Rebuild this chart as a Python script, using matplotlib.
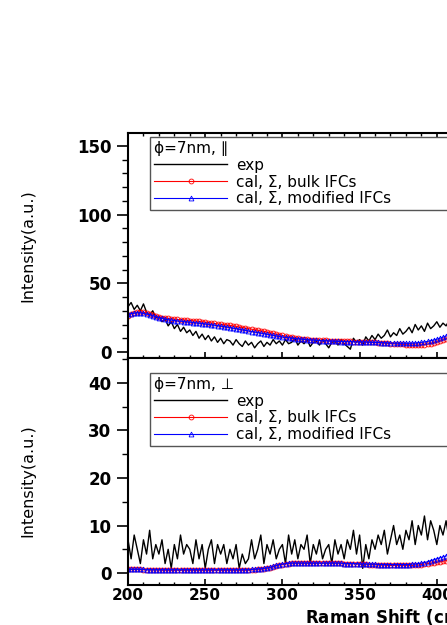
import matplotlib
matplotlib.use('Agg')
import matplotlib.pyplot as plt
import numpy as np
from matplotlib.ticker import MultipleLocator

# wide bold text for ticks
plt.rcParams['font.family'] = ['DejaVu Sans']
plt.rcParams['font.weight'] = 'bold'

# Raman shift (cm-1), sampled every 2 cm-1
shift = np.arange(200, 412, 2)

# phi=7nm, parallel polarisation
par_exp = [33, 36, 31, 34, 30, 35, 29, 27, 30, 25,
           26, 22, 24, 19, 22, 17, 20, 15, 18, 14,
           16, 12, 15, 10, 13, 9, 12, 8, 11, 7,
           10, 6, 9, 8, 5, 9, 6, 4, 8, 5,
           7, 3, 6, 8, 4, 7, 5, 9, 6, 8,
           5, 9, 6, 7, 10, 5, 8, 6, 9, 4,
           7, 8, 5, 9, 6, 3, 7, 8, 5, 9,
           6, 4, 2, 10, 7, 9, 5, 11, 8, 12,
           9, 13, 10, 12, 16, 11, 14, 12, 17, 13,
           15, 18, 14, 20, 16, 19, 15, 21, 17, 19,
           22, 18, 21, 19, 23, 20]
par_bulk = [26.5, 27.5, 28.3, 28.8, 29.0, 28.9, 28.5, 27.8, 27.0, 26.2,
            25.6, 25.1, 24.7, 24.4, 24.1, 23.9, 23.7, 23.5, 23.3, 23.1,
            22.9, 22.7, 22.5, 22.2, 22.0, 21.7, 21.4, 21.1, 20.8, 20.5,
            20.2, 19.9, 19.6, 19.3, 19.0, 18.6, 18.2, 17.8, 17.4, 17.0,
            16.6, 16.2, 15.8, 15.4, 15.0, 14.5, 14.0, 13.5, 13.0, 12.5,
            12.0, 11.5, 11.0, 10.6, 10.2, 9.9, 9.6, 9.4, 9.2, 9.0,
            8.9, 8.8, 8.6, 8.5, 8.4, 8.2, 8.1, 8.0, 7.9, 7.8,
            7.8, 7.7, 7.7, 7.6, 7.6, 7.5, 7.4, 7.3, 7.2, 7.0,
            6.9, 6.8, 6.6, 6.5, 6.3, 6.1, 6.0, 5.8, 5.6, 5.5,
            5.3, 5.2, 5.1, 5.0, 5.0, 5.1, 5.3, 5.7, 6.1, 6.6,
            7.2, 7.9, 8.7, 9.5, 10.4, 11.3]
par_mod = [27.5, 28.0, 28.3, 28.5, 28.4, 28.1, 27.6, 27.0, 26.3, 25.6,
           25.0, 24.4, 23.9, 23.5, 23.2, 22.9, 22.6, 22.4, 22.1, 21.9,
           21.7, 21.4, 21.2, 20.9, 20.7, 20.4, 20.1, 19.8, 19.5, 19.2,
           18.8, 18.5, 18.1, 17.7, 17.3, 16.9, 16.5, 16.1, 15.7, 15.3,
           14.9, 14.5, 14.1, 13.7, 13.3, 12.9, 12.5, 12.1, 11.7, 11.3,
           10.9, 10.6, 10.3, 10.0, 9.7, 9.5, 9.3, 9.1, 8.9, 8.7,
           8.6, 8.4, 8.3, 8.2, 8.1, 8.0, 7.9, 7.8, 7.7, 7.6,
           7.6, 7.5, 7.5, 7.4, 7.4, 7.3, 7.3, 7.2, 7.1, 7.0,
           7.0, 6.9, 6.8, 6.7, 6.6, 6.5, 6.4, 6.4, 6.3, 6.3,
           6.3, 6.3, 6.4, 6.5, 6.7, 7.0, 7.3, 7.7, 8.2, 8.7,
           9.3, 10.0, 10.8, 11.6, 12.4, 13.2]

# phi=7nm, perpendicular polarisation
perp_exp = [7, 3, 8, 5, 2, 7, 4, 9, 3, 6,
            4, 7, 2, 5, 1, 6, 3, 8, 4, 6,
            5, 2, 7, 3, 6, 1, 5, 7, 2, 6,
            4, 6, 2, 5, 3, 6, 1, 4, 2, 3,
            7, 3, 5, 8, 2, 6, 4, 7, 3, 5,
            6, 2, 8, 4, 7, 3, 6, 5, 8, 2,
            6, 4, 7, 3, 5, 6, 2, 7, 4, 6,
            3, 7, 5, 9, 4, 8, 1, 6, 3, 7,
            5, 8, 6, 9, 4, 7, 10, 6, 8, 5,
            9, 7, 11, 6, 10, 8, 12, 7, 11, 9,
            6, 10, 8, 11, 7, 9]
perp_bulk = [0.8, 0.8, 0.8, 0.8, 0.8, 0.7, 0.7, 0.7, 0.7, 0.7,
             0.7, 0.6, 0.6, 0.6, 0.6, 0.6, 0.6, 0.6, 0.6, 0.6,
             0.6, 0.6, 0.6, 0.6, 0.6, 0.6, 0.6, 0.6, 0.6, 0.6,
             0.6, 0.6, 0.6, 0.6, 0.6, 0.6, 0.6, 0.6, 0.6, 0.6,
             0.7, 0.7, 0.8, 0.8, 0.9, 1.0, 1.1, 1.3, 1.5, 1.7,
             1.8, 1.9, 2.0, 2.1, 2.1, 2.1, 2.1, 2.1, 2.1, 2.1,
             2.1, 2.1, 2.1, 2.1, 2.1, 2.1, 2.1, 2.1, 2.1, 2.1,
             2.0, 2.0, 2.0, 2.0, 1.9, 1.9, 1.9, 1.9, 1.8, 1.8,
             1.8, 1.7, 1.7, 1.7, 1.6, 1.6, 1.6, 1.6, 1.6, 1.6,
             1.6, 1.6, 1.6, 1.7, 1.7, 1.8, 1.9, 2.0, 2.1, 2.2,
             2.3, 2.4, 2.5, 2.6, 2.7, 2.8]
perp_mod = [0.8, 0.8, 0.8, 0.8, 0.8, 0.8, 0.7, 0.7, 0.7, 0.7,
            0.7, 0.7, 0.7, 0.7, 0.7, 0.7, 0.7, 0.7, 0.7, 0.7,
            0.7, 0.7, 0.7, 0.7, 0.7, 0.7, 0.7, 0.7, 0.7, 0.7,
            0.7, 0.7, 0.7, 0.7, 0.7, 0.7, 0.7, 0.7, 0.7, 0.7,
            0.8, 0.8, 0.9, 0.9, 1.0, 1.1, 1.2, 1.4, 1.6, 1.8,
            1.9, 2.0, 2.1, 2.1, 2.1, 2.1, 2.1, 2.1, 2.1, 2.1,
            2.1, 2.1, 2.1, 2.1, 2.1, 2.1, 2.1, 2.1, 2.1, 2.1,
            2.0, 2.0, 2.0, 2.0, 2.0, 1.9, 1.9, 1.9, 1.9, 1.9,
            1.9, 1.8, 1.8, 1.8, 1.8, 1.8, 1.8, 1.8, 1.8, 1.8,
            1.8, 1.8, 1.9, 1.9, 2.0, 2.1, 2.2, 2.4, 2.6, 2.8,
            3.0, 3.2, 3.4, 3.6, 3.8, 4.0]

labels = ['exp', 'cal, \u03a3, bulk IFCs', 'cal, \u03a3, modified IFCs']
titles = ['\u03d5=7nm, \u2225', '\u03d5=7nm, \u22a5']

fig = plt.figure(figsize=(4.47, 6.25), dpi=100)
# axes run past the right edge of the figure, like the cropped original
ax1 = fig.add_axes([0.2864, 0.4272, 0.8635, 0.36])
ax2 = fig.add_axes([0.2864, 0.064, 0.8635, 0.3632])

panels = [(ax1, par_exp, par_bulk, par_mod, titles[0], 0.982),
          (ax2, perp_exp, perp_bulk, perp_mod, titles[1], 0.934)]

for ax, exp, bulk, mod, title, ly in panels:
    ax.plot(shift, exp, color='black', lw=1.0, label=labels[0])
    ax.plot(shift, bulk, color='red', lw=0.8, marker='o', ms=3.5, mfc='none',
            mew=0.6, label=labels[1])
    ax.plot(shift, mod, color='blue', lw=0.8, marker='^', ms=3.5, mfc='none',
            mew=0.6, label=labels[2])

    leg = ax.legend(loc='upper left', bbox_to_anchor=(0.057, ly, 1.0, 0),
                    mode='expand', borderaxespad=0, title=title,
                    alignment='left', fancybox=False, edgecolor='#555555',
                    framealpha=1, prop={'size': 11, 'weight': 'normal'},
                    title_fontproperties={'size': 11, 'weight': 'normal'},
                    handlelength=4.8, handletextpad=0.6, labelspacing=0.12,
                    borderpad=0.25, numpoints=1)
    leg.get_frame().set_linewidth(1.0)

    ax.set_xlim(200, 450)
    ax.xaxis.set_major_locator(MultipleLocator(50))
    ax.xaxis.set_minor_locator(MultipleLocator(10))
    ax.tick_params(axis='y', which='major', direction='out', length=8,
                   width=1.2, labelsize=12, pad=4)
    ax.tick_params(axis='y', which='minor', direction='out', length=4.5,
                   width=1.0)
    ax.tick_params(axis='x', which='major', direction='in', length=4.5,
                   width=1.2, labelsize=11, pad=2)
    ax.tick_params(axis='x', which='minor', direction='in', length=2.5,
                   width=1.0)
    for s in ax.spines.values():
        s.set_linewidth(1.5)

    ax.set_ylabel('Intensity(a.u.)', fontsize=11.5, fontweight='normal')

# top panel
ax1.set_ylim(-4.4, 159.5)
ax1.set_yticks([0, 50, 100, 150])
ax1.yaxis.set_minor_locator(MultipleLocator(10))
ax1.tick_params(axis='x', which='both', top=True, labelbottom=False)
ax1.yaxis.set_label_coords(-0.24, 0.5)

# bottom panel
ax2.set_ylim(-2.5, 45.2)
ax2.set_yticks([0, 10, 20, 30, 40])
ax2.yaxis.set_minor_locator(MultipleLocator(5))
ax2.tick_params(axis='x', which='both', top=False)
ax2.yaxis.set_label_coords(-0.24, 0.46)

ax2.set_xlabel('Raman Shift (cm$^{-1}$)', fontsize=12, fontweight='bold', ha='left')
ax2.xaxis.set_label_coords(0.4585, -0.092)

fig.savefig('out.png', dpi=100)
